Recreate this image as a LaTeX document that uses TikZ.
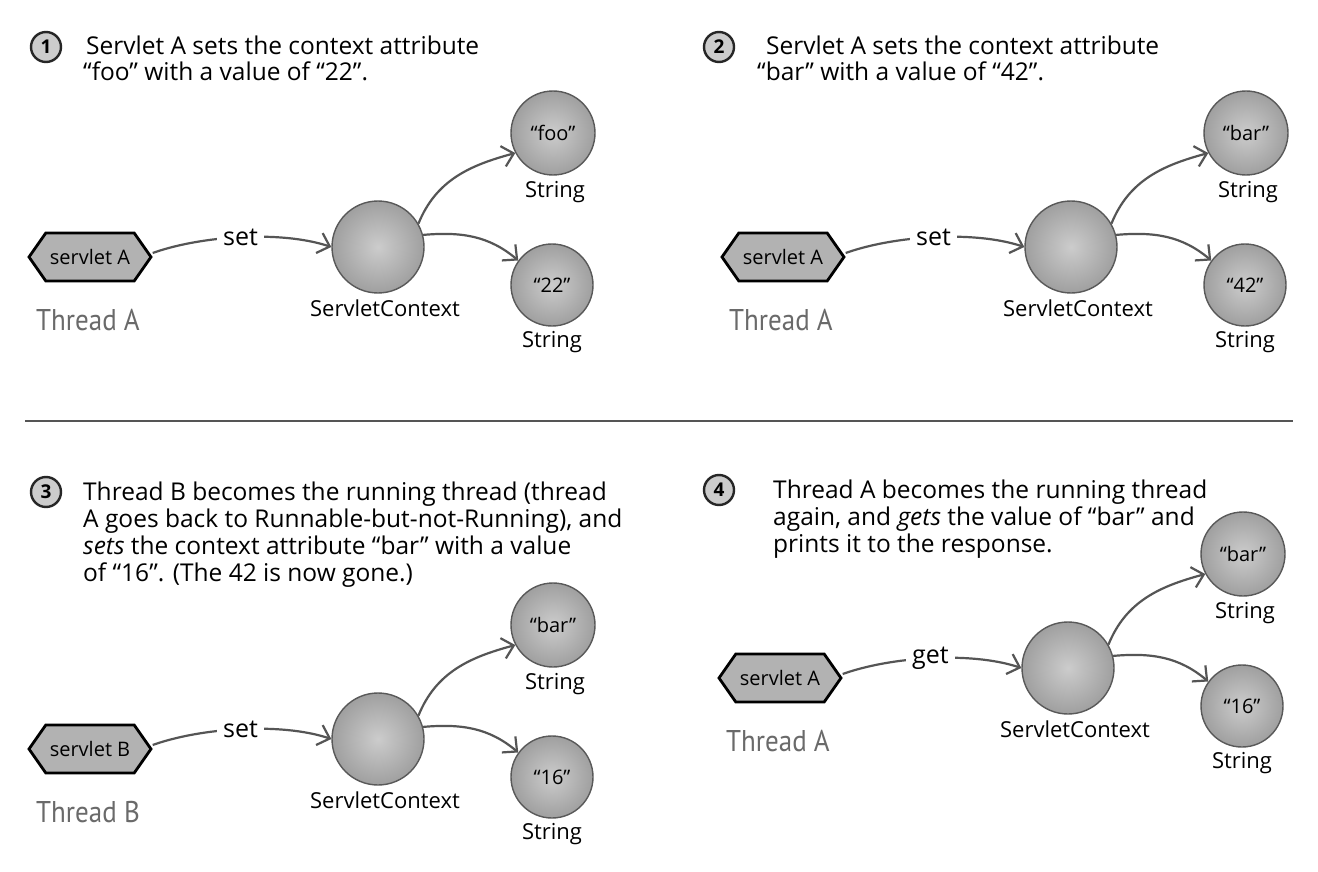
\documentclass[tikz,border=0pt]{standalone}
\usepackage{fontspec}
\setmainfont{Open Sans}
\newfontfamily\handfont{PT Sans}
\usetikzlibrary{arrows.meta,shapes.symbols}
\definecolor{linegray}{HTML}{555555}
\definecolor{threadgray}{HTML}{6A6A6A}
\tikzset{
  ball/.style={circle, draw=black!65, line width=1.4pt, inner color=gray!40, outer color=gray!75,
    font=\fontsize{20}{22}\selectfont, inner sep=0pt},
  hexnode/.style={shape=signal, signal to=west and east, signal pointer angle=110,
    minimum width=122pt, minimum height=48pt, inner sep=2pt, fill=gray!60, draw=black, line width=2.8pt,
    font=\fontsize{20}{22}\selectfont},
  threadlbl/.style={text=threadgray, font=\handfont\fontsize{30}{32}\selectfont},
  lbl/.style={font=\fontsize{22}{24}\selectfont},
  caption/.style={anchor=base west, inner sep=0pt, font=\fontsize{24.5}{28}\selectfont},
  numc/.style={circle, minimum size=30pt, inner sep=0pt, fill=gray!40, draw=black!85, line width=2.4pt,
    font=\bfseries\fontsize{19}{20}\selectfont},
  conn/.style={draw=linegray, line width=2.2pt, -{Straight Barb[length=11pt,width=21pt,line width=2.2pt]}},
  oplbl/.style={fill=white, inner sep=6pt, font=\fontsize{25}{27}\selectfont},
}
\newcommand\drawpanel[8]{%
\begin{scope}[shift={(#2,#3)}]
  \node[hexnode] (#1hex) at (90,257) {#4};
  \node[threadlbl] (#1thr) at (88,320) {\scalebox{0.9}[1]{#5}};
  \node[ball, minimum size=92pt] (#1ctx) at (378,247) {};
  \node[lbl] (#1ctxl) at (385,308) {ServletContext};
  \node[ball, minimum size=84pt] (#1top) at (553,133) {#7};
  \node[lbl] (#1topl) at (555,192) {String};
  \node[ball, minimum size=82pt] (#1bot) at (552,285) {#8};
  \node[lbl] (#1botl) at (552,342) {String};
  \draw[conn] ([yshift=4pt]#1hex.east) .. controls (200,236) and (280,230) .. (#1ctx.west)
     node[oplbl, pos=.5] (#1op) {#6};
  \draw[conn] (#1ctx.30) to[out=68,in=195] (#1top.208);
  \draw[conn] (#1ctx.15) to[out=5,in=140] (#1bot.144);
\end{scope}}
\begin{document}
\begin{tikzpicture}[x=1pt,y=-1pt]
\useasboundingbox[fill=white] (0,0) rectangle (1318,872);
% panel 1
\node[numc] (n1) at (46,47) {1};
\node[caption] (c1a) at (86,55) {Servlet A sets the context attribute};
\node[caption] (c1b) at (83,81) {“foo” with a value of “22”.};
\drawpanel{p1}{0}{0}{servlet A}{Thread A}{set}{“foo”}{“22”}
% panel 2
\node[numc] (n2) at (719,47) {2};
\node[caption] (c2a) at (766,55) {Servlet A sets the context attribute};
\node[caption] (c2b) at (757,81) {“bar” with a value of “42”.};
\drawpanel{p2}{693}{0}{servlet A}{Thread A}{set}{“bar”}{“42”}
% separator
\draw[draw=linegray, line width=2pt] (25,421) -- (1293,421);
% panel 3
\node[numc] (n3) at (46,492) {3};
\node[caption] (c3a) at (83,500) {Thread B becomes the running thread (thread};
\node[caption] (c3b) at (83,527) {A goes back to Runnable-but-not-Running), and};
\node[caption] (c3c) at (83,554) {\textit{sets} the context attribute “bar” with a value};
\node[caption] (c3d) at (83,581) {of “16”. (The 42 is now gone.)};
\drawpanel{p3}{0}{492}{servlet B}{Thread B}{set}{“bar”}{“16”}
% panel 4
\node[numc] (n4) at (719,490) {4};
\node[caption] (c4a) at (773,498) {Thread A becomes the running thread};
\node[caption] (c4b) at (773,525) {again, and \textit{gets} the value of “bar” and};
\node[caption] (c4c) at (773,552) {prints it to the response.};
\drawpanel{p4}{690}{421}{servlet A}{Thread A}{get}{“bar”}{“16”}
\end{tikzpicture}
\end{document}
